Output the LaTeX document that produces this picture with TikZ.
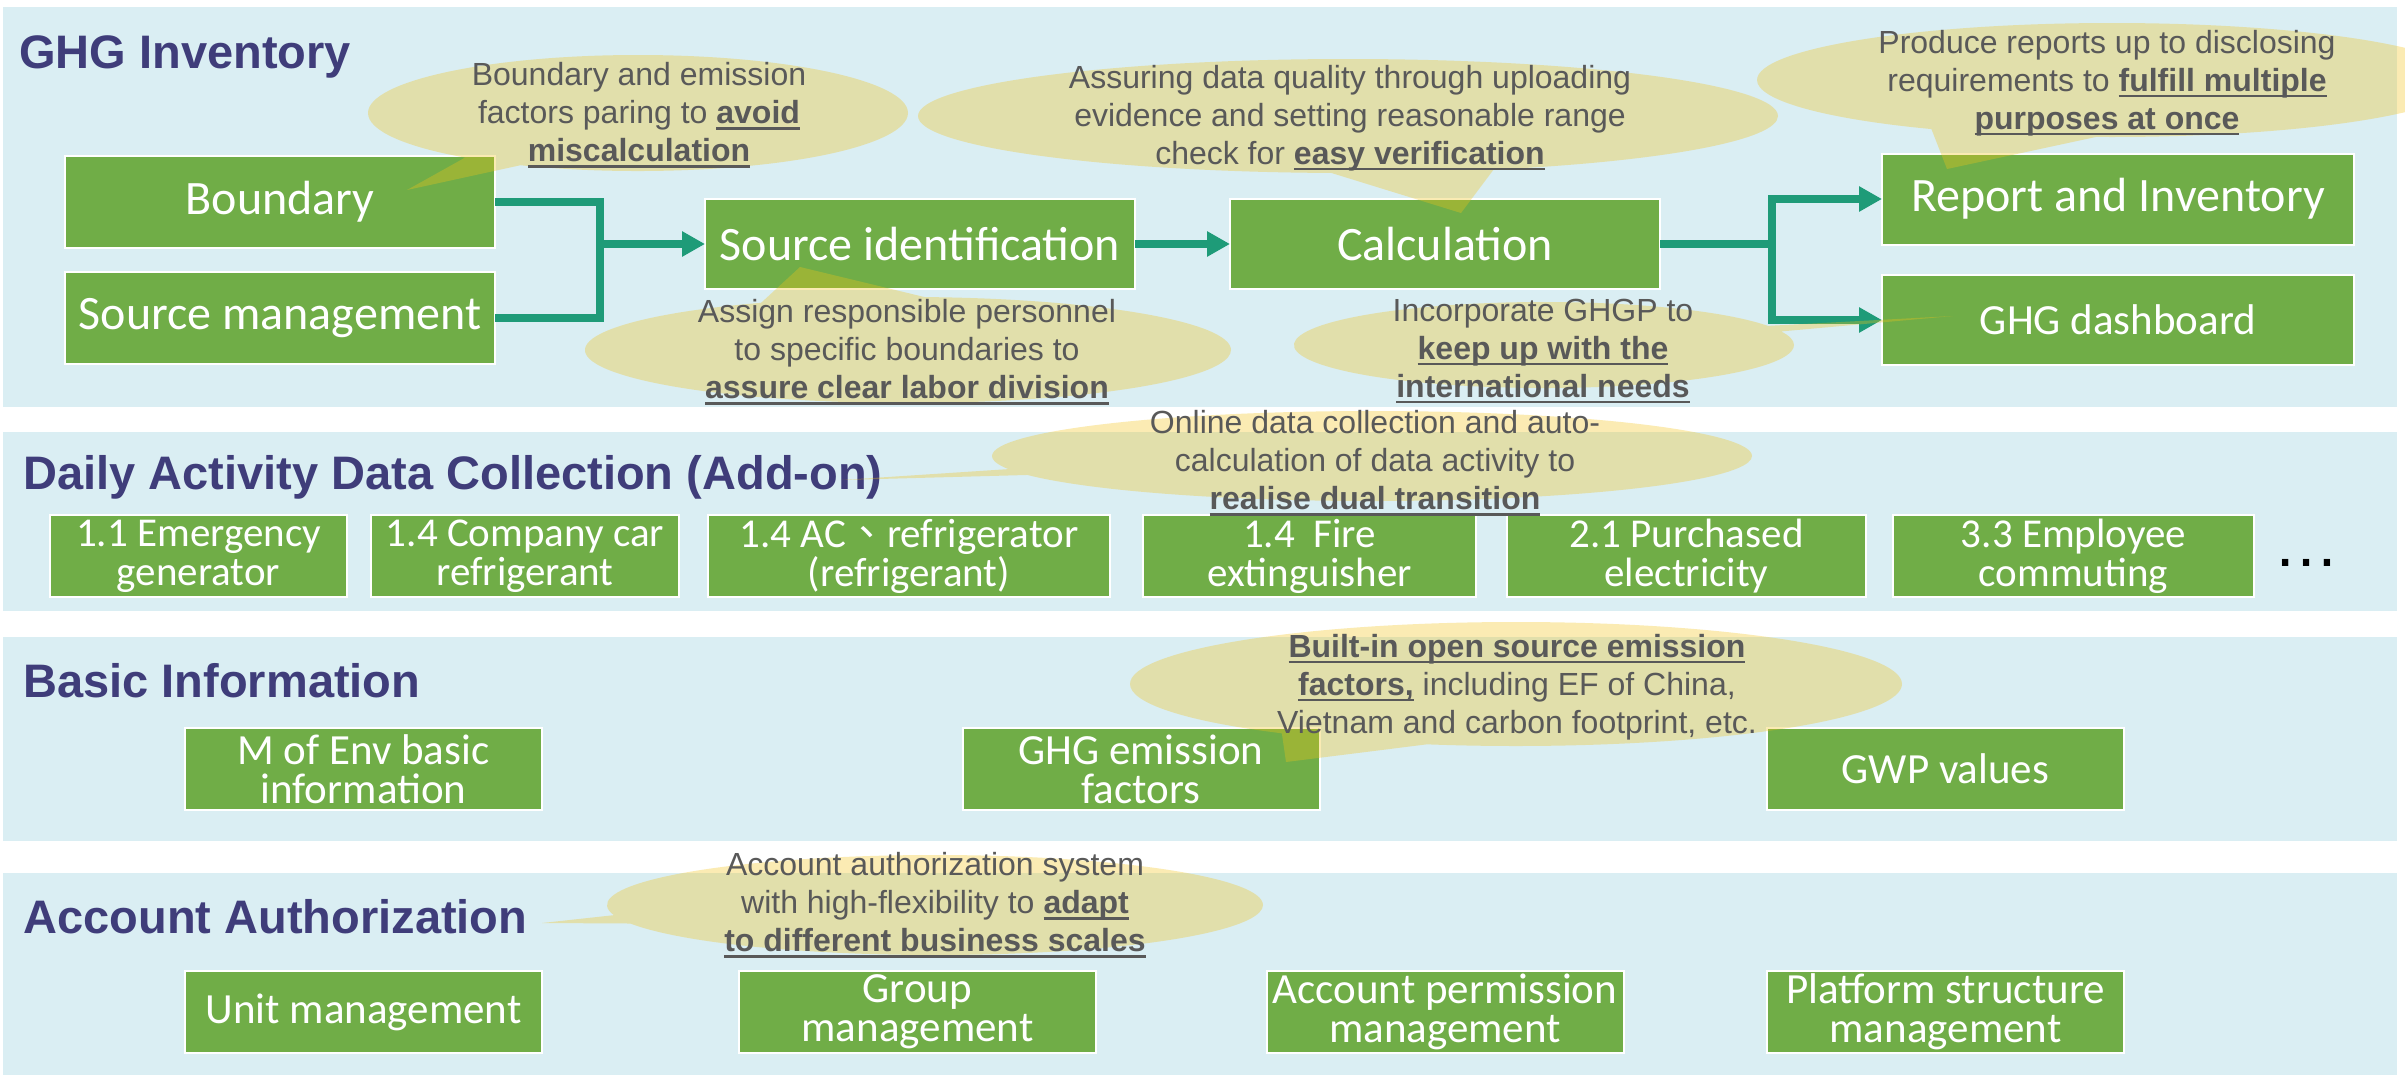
\documentclass[tikz,border=0pt]{standalone}
\usepackage{fontspec}
\setmainfont{Liberation Sans}
\newfontfamily\boxfont{Carlito}
\newfontfamily\cjkfont{Noto Sans CJK TC}
\usetikzlibrary{shapes.callouts,arrows.meta}
\definecolor{bandblue}{HTML}{DAEEF3}
\definecolor{boxgreen}{HTML}{70AD47}
\definecolor{headblue}{HTML}{3F3D7A}
\definecolor{conncol}{HTML}{1E9B78}
\definecolor{callgold}{HTML}{F2C319}
\definecolor{txtgray}{HTML}{595959}
\newcommand\uln[1]{\setbox0\hbox{#1}\leavevmode\rlap{\rule[-0.19em]{\wd0}{0.07em}}\box0\relax}
\tikzset{
  band/.style={fill=bandblue, draw=none},
  gbox/.style={rectangle, fill=boxgreen, draw=white, line width=1pt, text=white, align=center, inner sep=0pt, outer sep=0pt, font=\boxfont\fontsize{21.5}{19.5}\selectfont},
  bigbox/.style={gbox, font=\boxfont\fontsize{24}{28}\selectfont},
  dbox/.style={gbox, minimum height=41pt, font=\boxfont\fontsize{20.5}{19.5}\selectfont},
  sbox/.style={gbox, minimum width=178.5pt, minimum height=41pt},
  heading/.style={anchor=base west, text=headblue, font=\fontsize{23.5}{28}\selectfont\bfseries, inner sep=0pt},
  bubble/.style={ellipse callout, fill=callgold, fill opacity=0.33, draw=none, inner sep=0pt, outer sep=0pt},
  btext/.style={align=center, text=txtgray, font=\fontsize{16}{19}\selectfont, inner sep=0pt},
  conn/.style={draw=conncol, line width=4pt},
  arr/.style={-{Triangle[width=12pt,length=11.5pt]}},
}
\begin{document}
\begin{tikzpicture}[x=0.5pt,y=-0.5pt]
\useasboundingbox (0,0) rectangle (2405,1077);
\clip (0,0) rectangle (2405,1077);
% bands
\fill[band] (3,7) rectangle (2397,407);
\fill[band] (3,432) rectangle (2397,611);
\fill[band] (3,637) rectangle (2397,841);
\fill[band] (3,873) rectangle (2397,1075);
% headings
\node[heading] (h1) at (19,68) {GHG Inventory};
\node[heading] (h2) at (23,489) {Daily Activity Data Collection (Add-on)};
\node[heading] (h3) at (23,697) {Basic Information};
\node[heading] (h4) at (23,933) {Account Authorization};
% band 1 boxes
\node[bigbox, minimum width=215pt, minimum height=46pt] (bnd) at (280,202) {Boundary};
\node[bigbox, minimum width=215pt, minimum height=46pt] (smg) at (280,318) {Source management};
\node[bigbox, minimum width=215pt, minimum height=45pt] (sid) at (920,244) {Source identification};
\node[bigbox, minimum width=215pt, minimum height=45pt] (calc) at (1445,244) {Calculation};
\node[bigbox, minimum width=236pt, minimum height=45.5pt] (rep) at (2118,199) {Report and Inventory};
\node[gbox, minimum width=236pt, minimum height=45pt] (dash) at (2118,320) {GHG dashboard};
% band 2 boxes
\node[dbox, minimum width=148.5pt] (d1) at (198.5,556) {1.1 Emergency\\generator};
\node[dbox, minimum width=154pt] (d2) at (525,556) {1.4 Company car\\refrigerant};
\node[dbox, minimum width=201pt] (d3) at (909,556) {1.4 AC{\cjkfont 、}refrigerator\\(refrigerant)};
\node[dbox, minimum width=166.5pt] (d4) at (1309.5,556) {1.4\ \ Fire\\extinguisher};
\node[dbox, minimum width=179.5pt] (d5) at (1686.5,556) {2.1 Purchased\\electricity};
\node[dbox, minimum width=180.5pt] (d6) at (2073.5,556) {3.3 Employee\\commuting};
\node[anchor=base, inner sep=0pt, font=\fontsize{33}{33}\selectfont] (dots) at (2306,566) {…};
% band 3 boxes
\node[sbox] (b1) at (363.5,769) {M of Env basic\\information};
\node[sbox] (b2) at (1141,769) {GHG emission\\factors};
\node[sbox] (b3) at (1945.5,769) {GWP values};
% band 4 boxes
\node[sbox] (a1) at (363.5,1012) {Unit management};
\node[sbox] (a2) at (917.5,1012) {Group\\management};
\node[sbox] (a3) at (1445,1012) {Account permission\\management};
\node[sbox] (a4) at (1945.5,1012) {Platform structure\\management};
% connectors
\coordinate (j1) at (600,244);
\coordinate (j2) at (1772,244);
\draw[conn] (bnd.east) -| (j1) |- (smg.east);
\draw[conn,arr] (j1) -- (sid.west);
\draw[conn,arr] (sid.east) -- (calc.west);
\draw[conn] (calc.east) -- (j2);
\draw[conn,arr] (j2) |- (rep.west);
\draw[conn,arr] (j2) |- (dash.west);
% callouts
\node[bubble, minimum width=270pt, minimum height=58pt, callout absolute pointer={(407,190)}, callout pointer arc=14] (c1) at (638,113) {};
\node[bubble, minimum width=430pt, minimum height=57pt, callout absolute pointer={(1461,213)}, callout pointer arc=22] (c2) at (1348,116) {};
\node[bubble, minimum width=355pt, minimum height=57pt, callout absolute pointer={(1947,169)}, callout pointer arc=28] (c3) at (2112,80) {};
\node[bubble, minimum width=323pt, minimum height=53pt, callout absolute pointer={(800,267)}, callout pointer arc=30] (c4) at (908,350) {};
\node[bubble, minimum width=250pt, minimum height=43pt, callout absolute pointer={(1953,316)}, callout pointer arc=8] (c5) at (1544,345) {};
\node[bubble, minimum width=380pt, minimum height=45pt, callout absolute pointer={(842,480)}, callout pointer arc=8] (c6) at (1372,456) {};
\node[bubble, minimum width=386pt, minimum height=62pt, callout absolute pointer={(1286,762)}, callout pointer arc=24] (c7) at (1516,684) {};
\node[bubble, minimum width=328pt, minimum height=50pt, callout absolute pointer={(542,923)}, callout pointer arc=10] (c8) at (935,905) {};
% callout texts
\node[btext] (t1) at (639,115) {Boundary and emission\\factors paring to \uln{\textbf{avoid}}\\\uln{\textbf{miscalculation}}};
\node[btext] (t2) at (1350,118) {Assuring data quality through uploading\\evidence and setting reasonable range\\check for \uln{\textbf{easy verification}}};
\node[btext] (t3) at (2107,83) {Produce reports up to disclosing\\requirements to \uln{\textbf{fulfill multiple}}\\\uln{\textbf{purposes at once}}};
\node[btext] (t4) at (907,352) {Assign responsible personnel\\to specific boundaries to\\\uln{\textbf{assure clear labor division}}};
\node[btext] (t5) at (1543,351) {Incorporate GHGP to\\\uln{\textbf{keep up with the}}\\\uln{\textbf{international needs}}};
\node[btext] (t6) at (1375,463) {Online data collection and auto-\\calculation of data activity to\\\uln{\textbf{realise dual transition}}};
\node[btext] (t7) at (1517,687) {\uln{\textbf{Built-in open source emission}}\\\uln{\textbf{factors,}} including EF of China,\\Vietnam and carbon footprint, etc.};
\node[btext] (t8) at (935,905) {Account authorization system\\with high-flexibility to \uln{\textbf{adapt}}\\\uln{\textbf{to different business scales}}};
\end{tikzpicture}
\end{document}
